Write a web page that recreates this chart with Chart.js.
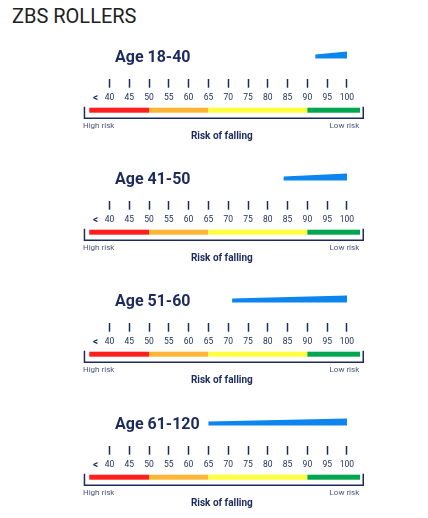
<!DOCTYPE html>
<html>
<head>
<meta charset="utf-8">
<script src="https://cdn.jsdelivr.net/npm/chart.js@4"></script>
<style>
  body { margin: 0; background: #fff; width: 428px; height: 518px; position: relative; overflow: hidden; }
  h1 { position: absolute; left: 12px; top: 6px; margin: 0; font: 400 20px/20px Roboto, sans-serif; color: #212121; }
  canvas { position: absolute; left: 0; }
</style>
</head>
<body>
<h1>ZBS ROLLERS</h1>
<canvas id="panel0" width="428" height="122" style="top:30px"></canvas>
<canvas id="panel1" width="428" height="122" style="top:152px"></canvas>
<canvas id="panel2" width="428" height="122" style="top:274px"></canvas>
<canvas id="panel3" width="428" height="122" style="top:397px"></canvas>
<script>
// age groups and the range of the blue marker (start -> end on the balance score)
const ageGroups = ["Age 18-40", "Age 41-50", "Age 51-60", "Age 61-120"];
const rangeStart = [92, 84, 71, 65];
const rangeEnd = [100, 100, 100, 100];

// axis ticks ("<" sits just before 40)
const tickValues = [36.5, 40, 45, 50, 55, 60, 65, 70, 75, 80, 85, 90, 95, 100];
const tickLabels = ["<", "40", "45", "50", "55", "60", "65", "70", "75", "80", "85", "90", "95", "100"];

// risk zones under the scale
const zoneEdges = [34.9, 50, 65, 90, 103.3];
const zoneColors = ["#ff1f1f", "#ffb535", "#ffff3d", "#00a64f"];

const navy = "#1c2a5c";
const blue = "#0c86ee";
const font = "Roboto, sans-serif";

// blue marker: bar element geometry, drawn as a wedge (thin left, thick right)
const wedgePlugin = {
  id: "wedge",
  afterDatasetsDraw(chart) {
    const ctx = chart.ctx;
    chart.getDatasetMeta(0).data.forEach(bar => {
      const { x, y, base, height } = bar.getProps(["x", "y", "base", "height"], true);
      const bottom = y + height / 2;
      ctx.save();
      ctx.fillStyle = blue;
      ctx.beginPath();
      ctx.moveTo(base, bottom);
      ctx.lineTo(base, bottom - height * 0.6);
      ctx.lineTo(x, y - height / 2);
      ctx.lineTo(x, bottom);
      ctx.closePath();
      ctx.fill();
      ctx.restore();
    });
  }
};

// zones, bracket and captions
const scalePlugin = {
  id: "riskScale",
  afterDraw(chart) {
    const { ctx, chartArea } = chart;
    const xs = chart.scales.x;
    const bandTop = chartArea.bottom + 29;

    ctx.save();
    zoneColors.forEach((c, i) => {
      const x0 = xs.getPixelForValue(zoneEdges[i]);
      const x1 = xs.getPixelForValue(zoneEdges[i + 1]);
      ctx.fillStyle = c;
      ctx.fillRect(x0, bandTop, x1 - x0, 5);
    });

    // bracket
    const l = xs.getPixelForValue(xs.min) + 0.75;
    const r = xs.getPixelForValue(xs.max) - 0.75;
    ctx.strokeStyle = navy;
    ctx.lineWidth = 1.5;
    ctx.beginPath();
    ctx.moveTo(l, bandTop - 1);
    ctx.lineTo(l, bandTop + 10.5);
    ctx.lineTo(r, bandTop + 10.5);
    ctx.lineTo(r, bandTop - 1);
    ctx.stroke();

    ctx.fillStyle = "#4a5578";
    ctx.font = "8px " + font;
    ctx.textBaseline = "middle";
    ctx.textAlign = "left";
    ctx.fillText("High risk", l - 1.5, bandTop + 18.5);
    ctx.textAlign = "right";
    ctx.fillText("Low risk", r - 4, bandTop + 18.5);

    ctx.fillStyle = navy;
    ctx.font = "bold 10px " + font;
    ctx.textAlign = "center";
    ctx.fillText("Risk of falling", (l + r) / 2 - 2, bandTop + 29);

    // panel title
    ctx.font = "bold 16px " + font;
    ctx.textAlign = "left";
    ctx.fillText(chart.data.labels[0], 115, chartArea.bottom - 20.5);
    ctx.restore();
  }
};

ageGroups.forEach((age, i) => {
  new Chart(document.getElementById("panel" + i), {
    type: "bar",
    data: {
      labels: [age],
      datasets: [{
        data: [[rangeStart[i], rangeEnd[i]]],
        backgroundColor: "rgba(0,0,0,0)",
        barThickness: 7
      }]
    },
    options: {
      indexAxis: "y",
      responsive: false,
      animation: false,
      layout: { padding: { left: 83.7, right: 64, top: 1.5, bottom: 42.3 } },
      plugins: { legend: { display: false }, tooltip: { enabled: false } },
      scales: {
        y: { display: false },
        x: {
          min: 33.5,
          max: 104.3,
          afterBuildTicks: axis => { axis.ticks = tickValues.map(v => ({ value: v })); },
          border: { display: false },
          grid: {
            drawOnChartArea: false,
            tickLength: 9,
            tickWidth: 1.5,
            tickColor: c => (c.tick && c.tick.value < 40 ? "rgba(0,0,0,0)" : navy)
          },
          ticks: {
            autoSkip: false,
            maxRotation: 0,
            padding: 5,
            color: navy,
            font: c => (c.tick && c.tick.value < 40
              ? { family: font, size: 10, weight: "bold" }
              : { family: font, size: 8.5, weight: "normal" }),
            callback: (v, idx) => tickLabels[idx]
          }
        }
      }
    },
    plugins: [wedgePlugin, scalePlugin]
  });
});
</script>
</body>
</html>
